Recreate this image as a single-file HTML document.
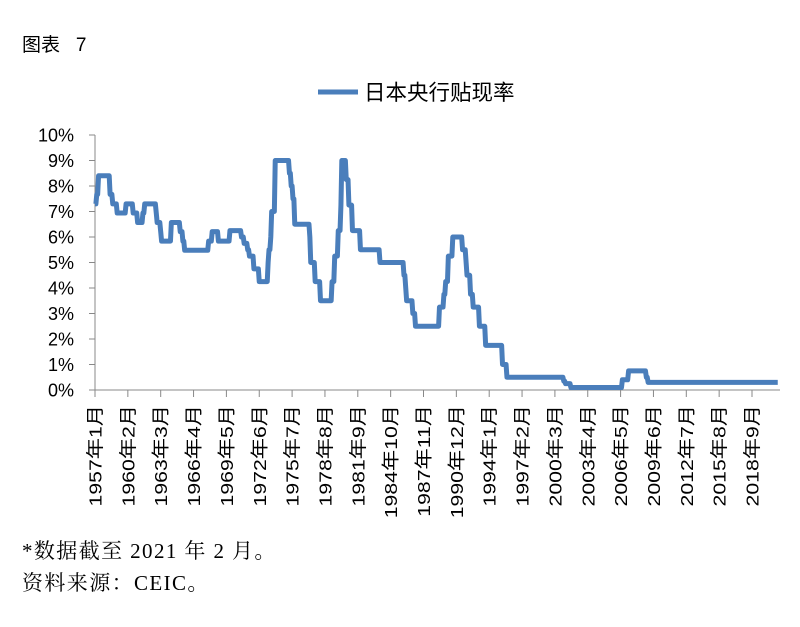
<!DOCTYPE html>
<html><head><meta charset="utf-8"><style>
body{margin:0;background:#fff;width:800px;height:627px;overflow:hidden;font-family:"Liberation Sans","Noto Sans CJK SC",sans-serif;}
.t{position:absolute;left:22px;top:30px;font-size:19px;color:#000;}
.f{position:absolute;left:22px;font-family:"Liberation Serif","Noto Serif CJK SC",serif;font-size:21px;letter-spacing:1.4px;color:#000;}
</style></head><body>
<div class="t">图表&nbsp;&nbsp;&nbsp;7</div>
<svg id="s" width="800" height="627" style="position:absolute;left:0;top:0" font-family="Liberation Sans, Noto Sans CJK SC, sans-serif">
<line x1="318" y1="92" x2="358" y2="92" stroke="#4a7ebb" stroke-width="5"/>
<text x="364" y="100" font-size="21.5">日本央行贴现率</text>
<g id="ax" stroke="#888" stroke-width="1"></g>
<g id="lb" font-size="18" fill="#000"></g>
<path id="p" fill="none" stroke="#4a7ebb" stroke-width="5" stroke-linejoin="round"/>
</svg>
<div class="f" style="top:535px">*数据截至 2021 年 2 月。</div>
<div class="f" style="top:567px">资料来源：CEIC。</div>
<script>
var ax=document.getElementById('ax'),lb=document.getElementById('lb'),h='',l='';
function X(m){return 95+m*32.85/37;}function Y(v){return 390-v*25.5;}
h+='<line x1="95" y1="135" x2="95" y2="390"/><line x1="95" y1="390" x2="780" y2="390"/>';
for(var i=0;i<=10;i++){var y=Y(i);h+='<line x1="89" y1="'+y+'" x2="95" y2="'+y+'"/>';l+='<text x="74" y="'+(y+6.5)+'" text-anchor="end">'+i+'%</text>';}
for(var k=0;k<21;k++){var m=k*37,x=X(m),yr=1957+Math.floor(m/12),mo=m%12+1;
h+='<line x1="'+x+'" y1="390" x2="'+x+'" y2="397"/>';
l+='<text transform="translate('+(x+6.5)+',405) rotate(-90) scale(1.18,1)" text-anchor="end">'+yr+'年'+mo+'月</text>';}
ax.innerHTML=h;lb.innerHTML=l;
var d=[[1957,1,7.3],[1957,3,7.67],[1957,5,8.4],[1958,6,7.67],[1958,9,7.3],[1959,2,6.94],[1959,12,7.3],[1960,8,6.94],[1961,1,6.57],[1961,7,6.94],[1961,9,7.3],[1962,10,6.94],[1962,11,6.57],[1963,3,6.21],[1963,4,5.84],[1964,3,6.57],[1965,1,6.21],[1965,4,5.84],[1965,6,5.48],[1967,9,5.84],[1968,1,6.21],[1968,8,5.84],[1969,9,6.25],[1970,10,6.0],[1971,1,5.75],[1971,5,5.5],[1971,7,5.25],[1971,12,4.75],[1972,6,4.25],[1973,4,5.0],[1973,5,5.5],[1973,7,6.0],[1973,8,7.0],[1973,12,9.0],[1975,4,8.5],[1975,6,8.0],[1975,8,7.5],[1975,10,6.5],[1977,3,6.0],[1977,4,5.0],[1977,9,4.25],[1978,3,3.5],[1979,4,4.25],[1979,7,5.25],[1979,11,6.25],[1980,2,7.25],[1980,3,9.0],[1980,8,8.25],[1980,11,7.25],[1981,3,6.25],[1981,12,5.5],[1983,10,5.0],[1986,1,4.5],[1986,3,4.0],[1986,4,3.5],[1986,11,3.0],[1987,2,2.5],[1989,5,3.25],[1989,10,3.75],[1989,12,4.25],[1990,3,5.25],[1990,8,6.0],[1991,7,5.5],[1991,11,5.0],[1991,12,4.5],[1992,4,3.75],[1992,7,3.25],[1993,2,2.5],[1993,9,1.75],[1995,4,1.0],[1995,9,0.5],[2001,1,0.35],[2001,3,0.25],[2001,9,0.1],[2006,7,0.4],[2007,2,0.75],[2008,10,0.5],[2008,12,0.3]];
var s='',prev=null;
d.forEach(function(e){var m=(e[0]-1957)*12+e[1]-1;
if(prev===null){s='M'+X(m)+' '+Y(e[2]);}else{s+=' L'+X(m-1)+' '+Y(prev)+' L'+X(m)+' '+Y(e[2]);}prev=e[2];});
s+=' L'+X(769)+' '+Y(prev);
document.getElementById('p').setAttribute('d',s);
</script>
</body></html>
